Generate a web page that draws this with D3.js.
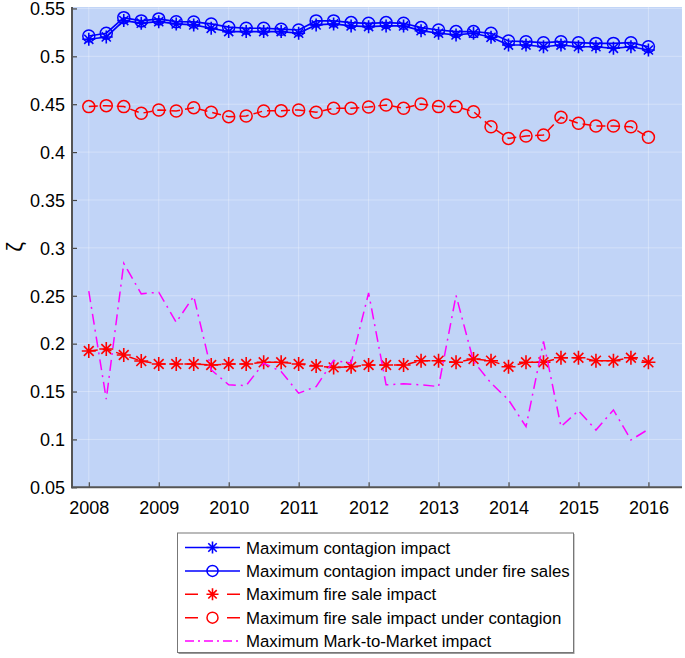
<!DOCTYPE html>
<html><head><meta charset="utf-8">
<script src="https://cdn.jsdelivr.net/npm/d3@7"></script>
<style>body{margin:0;background:#fff}svg{display:block}text{font-family:"Liberation Sans",Arial,Helvetica,sans-serif;fill:#000}</style>
</head><body><svg id="c" width="685" height="658"></svg>
<script>
const quarters = [2008,2008.25,2008.5,2008.75,2009,2009.25,2009.5,2009.75,2010,2010.25,2010.5,2010.75,2011,2011.25,2011.5,2011.75,2012,2012.25,2012.5,2012.75,2013,2013.25,2013.5,2013.75,2014,2014.25,2014.5,2014.75,2015,2015.25,2015.5,2015.75,2016];
const xTicks = [2008,2009,2010,2011,2012,2013,2014,2015,2016];
const yTicks = [0.05,0.1,0.15,0.2,0.25,0.3,0.35,0.4,0.45,0.5,0.55];
const contagion = [0.5178,0.5202,0.5373,0.5346,0.5362,0.5338,0.5328,0.5293,0.5258,0.5258,0.5258,0.5258,0.5241,0.5328,0.5338,0.5317,0.531,0.5317,0.5317,0.5268,0.5241,0.5223,0.5241,0.5199,0.5118,0.5118,0.51,0.5118,0.51,0.51,0.5084,0.51,0.5066];
const contagionFS = [0.5212,0.5241,0.5404,0.537,0.5391,0.5362,0.5359,0.5338,0.5304,0.5293,0.5293,0.5283,0.5275,0.537,0.537,0.5352,0.5345,0.5352,0.5345,0.53,0.5275,0.5258,0.5258,0.5241,0.516,0.5153,0.5142,0.5153,0.5142,0.5135,0.5135,0.5142,0.51];
const fireSale = [0.1923,0.1944,0.1881,0.1818,0.1787,0.1787,0.1787,0.1777,0.1787,0.1787,0.1805,0.1805,0.1787,0.1766,0.1752,0.1759,0.1777,0.1777,0.1777,0.1822,0.1822,0.1805,0.184,0.1822,0.1759,0.1805,0.1805,0.1853,0.1853,0.1822,0.1822,0.1853,0.1805];
const fireSaleC = [0.4475,0.4485,0.4475,0.4405,0.444,0.443,0.4464,0.4416,0.437,0.4377,0.443,0.4433,0.444,0.4416,0.4458,0.4458,0.4471,0.4492,0.4458,0.4503,0.4475,0.4475,0.4422,0.4265,0.4143,0.4168,0.4178,0.4364,0.4301,0.4272,0.4272,0.4265,0.4154];
const mtm = [0.2548,0.142,0.2838,0.252,0.2537,0.2223,0.2495,0.1727,0.157,0.1562,0.1797,0.1709,0.1483,0.1552,0.1825,0.1797,0.2529,0.157,0.158,0.157,0.1552,0.2503,0.1815,0.1588,0.1413,0.1133,0.2024,0.1133,0.13,0.1098,0.1308,0.0994,0.1106];
const legendLabels = ["Maximum contagion impact","Maximum contagion impact under fire sales","Maximum fire sale impact","Maximum fire sale impact under contagion","Maximum Mark-to-Market impact"];

const svg = d3.select("#c");
const L=72, R=682, T=7, B=487.3;
const x = d3.scaleLinear().domain([2007.76,2016.48]).range([L,R]);
const y = d3.scaleLinear().domain([0.05,0.5515]).range([B,T]);

svg.append("rect").attr("x",L).attr("y",T).attr("width",R-L).attr("height",B-T).attr("fill","#c1d4f7");
const g = svg.append("g");
g.selectAll(".gx").data(xTicks).join("line").attr("x1",d=>x(d)).attr("x2",d=>x(d)).attr("y1",T).attr("y2",B).attr("stroke","#fff").attr("stroke-opacity",0.3);
g.selectAll(".gy").data(yTicks).join("line").attr("y1",d=>y(d)).attr("y2",d=>y(d)).attr("x1",L).attr("x2",R).attr("stroke","#fff").attr("stroke-opacity",0.3);

const ax = svg.append("g").attr("transform",`translate(0,${B})`).call(d3.axisBottom(x).tickValues(xTicks).tickFormat(d3.format("d")).tickSizeInner(-5).tickSizeOuter(0));
const ay = svg.append("g").attr("transform",`translate(${L},0)`).call(d3.axisLeft(y).tickValues(yTicks).tickFormat(d=>String(+d.toFixed(2))).tickSizeInner(-5).tickSizeOuter(0));
[ax,ay].forEach(a=>{a.select(".domain").remove();a.selectAll("line").attr("stroke","#444").attr("stroke-width",1.2);a.selectAll("text").attr("font-size",18).attr("font-family","Liberation Sans, Arial, sans-serif").attr("fill","#000");});
ax.selectAll("text").attr("y",14).attr("dy","0.71em");
ay.selectAll("text").attr("x",-7).attr("dy","0.35em");
svg.append("line").attr("x1",L).attr("x2",L).attr("y1",T).attr("y2",B+1).attr("stroke","#555").attr("stroke-width",2);
svg.append("line").attr("x1",L-1).attr("x2",R).attr("y1",B).attr("y2",B).attr("stroke","#555").attr("stroke-width",2);

svg.append("text").attr("transform","translate(22,247) rotate(-90)").attr("text-anchor","middle").attr("font-size",22).text("ζ");

function asterisk(sel, cx, cy, s, color){
  const p = `M${cx-s},${cy}L${cx+s},${cy}M${cx},${cy-s}L${cx},${cy+s}M${cx-s*0.7},${cy-s*0.7}L${cx+s*0.7},${cy+s*0.7}M${cx-s*0.7},${cy+s*0.7}L${cx+s*0.7},${cy-s*0.7}`;
  sel.append("path").attr("d",p).attr("stroke",color).attr("stroke-width",1.6).attr("fill","none");
}
function circle(sel,cx,cy,r,color){
  sel.append("circle").attr("cx",cx).attr("cy",cy).attr("r",r).attr("fill","none").attr("stroke",color).attr("stroke-width",1.5);
}
const series = [
  {v:contagion, color:"#0000ff", dash:null, marker:"*", w:1.7},
  {v:contagionFS, color:"#0000ff", dash:null, marker:"o", w:1.7},
  {v:fireSale, color:"#ff0000", dash:"9,5", marker:"*", w:1.5},
  {v:fireSaleC, color:"#ff0000", dash:"9,5", marker:"o", w:1.5},
  {v:mtm, color:"#ff00ff", dash:"11,5,2,5", marker:null, w:1.5}
];
const line = d3.line().x((d,i)=>x(quarters[i])).y(d=>y(d));
const pg = svg.append("g");
series.forEach(s=>{
  pg.append("path").attr("d",line(s.v)).attr("fill","none").attr("stroke",s.color).attr("stroke-width",s.w).attr("stroke-dasharray",s.dash);
  const mg = pg.append("g");
  s.v.forEach((d,i)=>{
    if(s.marker==="*") asterisk(mg,x(quarters[i]),y(d),s.color==="#ff0000"?7:6.5,s.color);
    else if(s.marker==="o") circle(mg,x(quarters[i]),y(d),6,s.color);
  });
});

const lg = svg.append("g");
lg.append("rect").attr("x",178.5).attr("y",534).attr("width",396).attr("height",120).attr("fill","#999");
lg.append("rect").attr("x",177.5).attr("y",533).attr("width",396).attr("height",119.5).attr("fill","#fff").attr("stroke","#777").attr("stroke-width",1);
legendLabels.forEach((lab,i)=>{
  const cy = 547.5 + i*23.4, s = series[i];
  lg.append("line").attr("x1",185).attr("x2",240).attr("y1",cy).attr("y2",cy).attr("stroke",s.color).attr("stroke-width",1.5).attr("stroke-dasharray",s.dash? (s.marker? "13,29":"9,4,2,4"):null);
  if(s.marker==="*") asterisk(lg,212.5,cy,6,s.color);
  if(s.marker==="o") circle(lg,212.5,cy,5.5,s.color);
  lg.append("text").attr("x",246).attr("y",cy).attr("dy","0.36em").attr("font-size",16.8).text(lab);
});
</script></body></html>
